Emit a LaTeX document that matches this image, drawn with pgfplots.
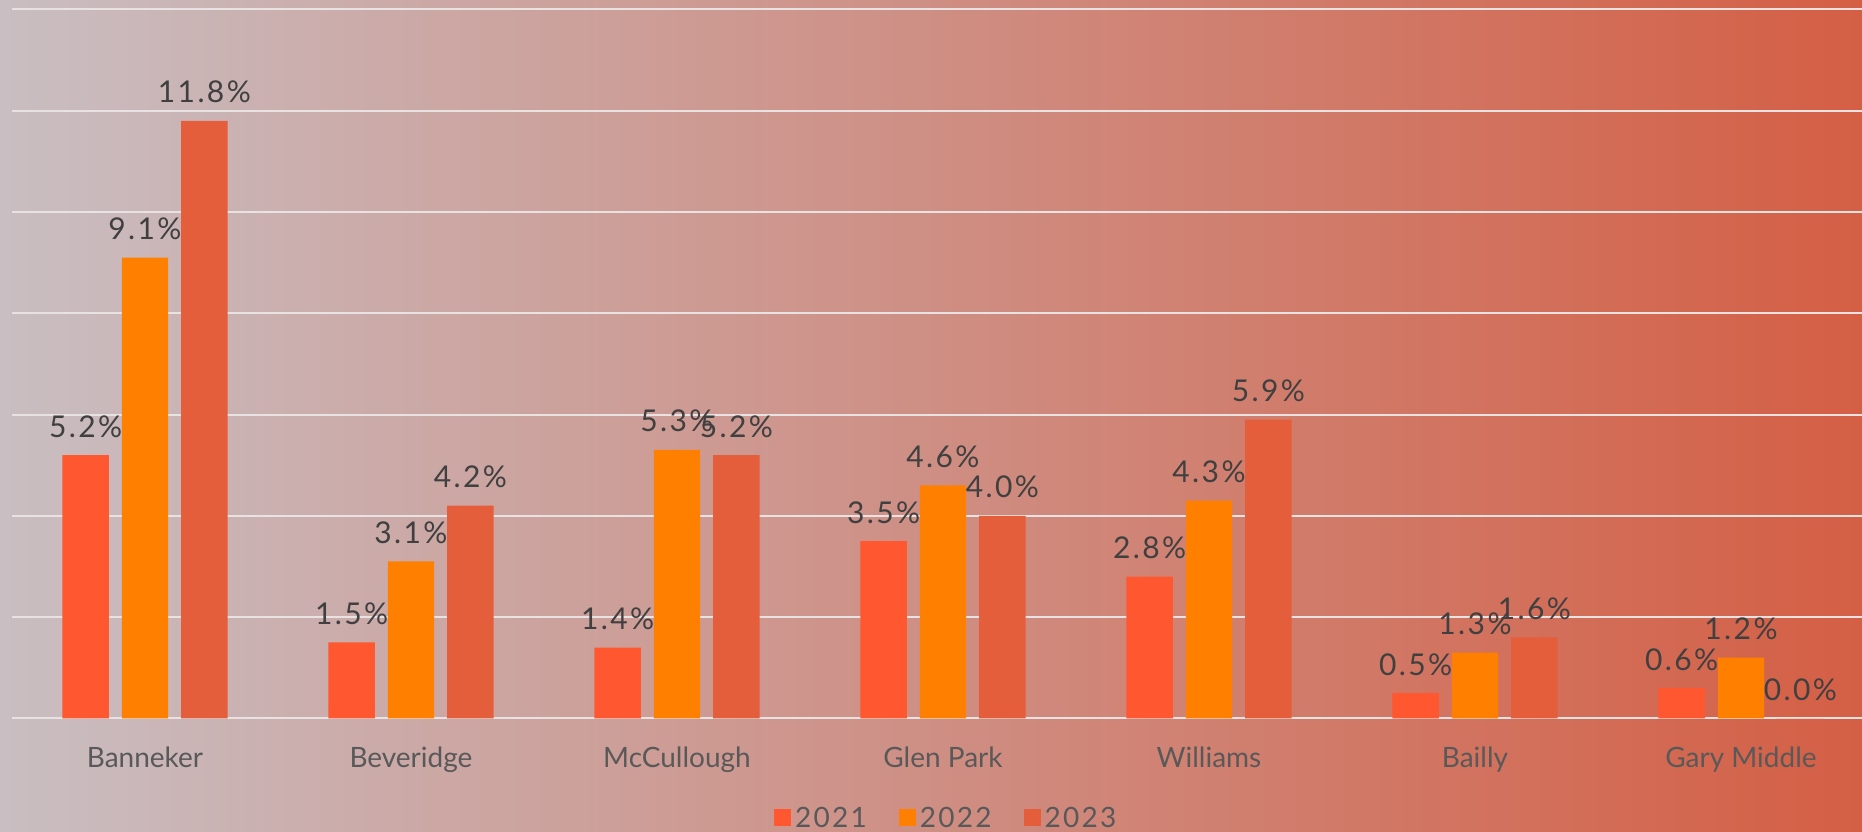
\documentclass[border=0pt]{standalone}
\usepackage{pgfplots}
\pgfplotsset{compat=1.18}
\usepackage{fontspec}
\setmainfont{Lato}
\newfontfamily\spaced[LetterSpace=8]{Lato}
\definecolor{bgL}{RGB}{201,190,194}
\definecolor{bgM}{RGB}{206,142,128}
\definecolor{bgR}{RGB}{212,95,69}
\definecolor{cA}{RGB}{255,88,48}
\definecolor{cB}{RGB}{255,128,0}
\definecolor{cC}{RGB}{228,94,60}
\definecolor{gridc}{RGB}{232,226,226}
\definecolor{labc}{RGB}{64,64,64}
\definecolor{tickc}{RGB}{89,89,89}
\begin{document}
\begin{tikzpicture}
\useasboundingbox (0,0) rectangle (931pt,415.5pt);
\shade[left color=bgL, middle color=bgM, right color=bgR] (0,0) rectangle (931pt,415.5pt);
\begin{axis}[
  at={(6.25pt,56.3pt)}, anchor=south west,
  scale only axis, width=924.75pt, height=354.5pt,
  ymin=0, ymax=14, ytick={0,2,...,14}, yticklabels={},
  xmin=-0.498, xmax=6.455, xtick={0,...,6},
  xticklabels={Banneker,Beveridge,McCullough,Glen Park,Williams,Bailly,Gary Middle},
  axis line style={draw=none}, major tick length=0pt,
  ymajorgrids, grid style={line width=1pt, color=gridc},
  ybar=6.5pt, bar width=23.2pt,
  xticklabel style={anchor=base, yshift=-24.3pt, font=\fontsize{14}{16}\selectfont, text=tickc},
  nodes near coords={\pgfmathprintnumber[fixed, fixed zerofill, precision=1, assume math mode=true]{\pgfplotspointmeta}\%},
  every node near coord/.append style={anchor=base, yshift=9pt, inner sep=0pt, font=\spaced\fontsize{15}{18}\selectfont, text=labc},
  legend style={at={(0.5,0)}, anchor=center, yshift=-50pt, xshift=5pt, draw=none, fill=none,
    font=\spaced\fontsize{14}{16}\selectfont, text=tickc,
    /tikz/every even column/.append style={column sep=14pt}},
  legend columns=-1,
  legend image code/.code={\fill[#1, draw=none] (0pt,-3.75pt) rectangle (8.5pt,4.75pt);},
]
\addplot[fill=cA, draw=none] coordinates {(0,5.2) (1,1.5) (2,1.4) (3,3.5) (4,2.8) (5,0.5) (6,0.6)};
\addplot[fill=cB, draw=none] coordinates {(0,9.1) (1,3.1) (2,5.3) (3,4.6) (4,4.3) (5,1.3) (6,1.2)};
\addplot[fill=cC, draw=none] coordinates {(0,11.8) (1,4.2) (2,5.2) (3,4.0) (4,5.9) (5,1.6) (6,0.0)};
\legend{2021,2022,2023}
\end{axis}
\end{tikzpicture}
\end{document}
